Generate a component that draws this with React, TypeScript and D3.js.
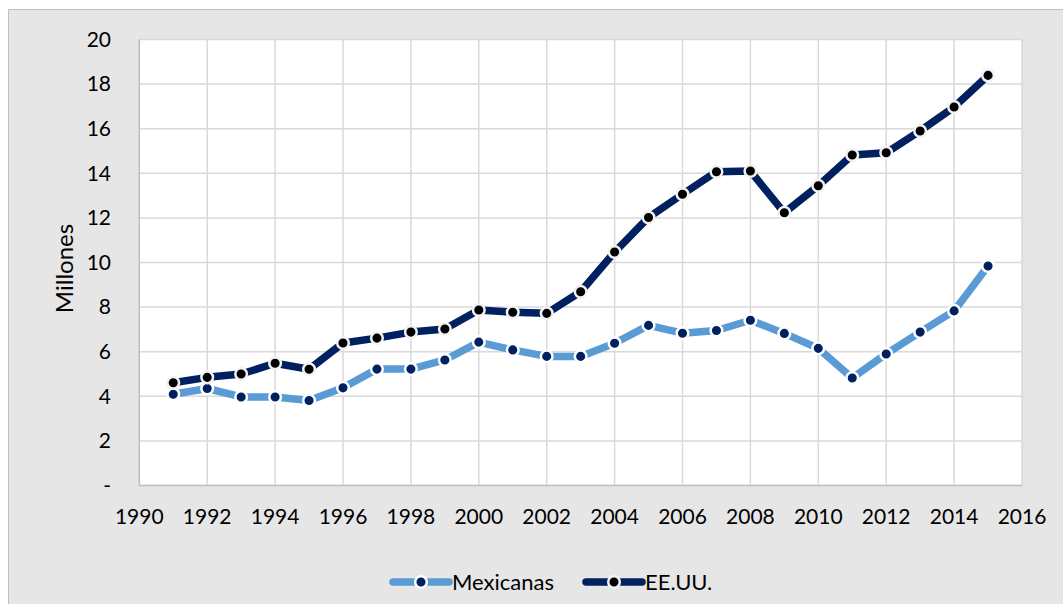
import React from "react";
import * as d3 from "d3";

const years = [1991,1992,1993,1994,1995,1996,1997,1998,1999,2000,2001,2002,2003,2004,2005,2006,2007,2008,2009,2010,2011,2012,2013,2014,2015];
const mexicanas = [4.09,4.35,3.97,3.97,3.81,4.38,5.22,5.22,5.63,6.43,6.08,5.79,5.79,6.38,7.18,6.83,6.95,7.41,6.82,6.15,4.82,5.90,6.88,7.83,9.84];
const eeuu = [4.61,4.85,5.00,5.48,5.21,6.39,6.61,6.88,7.02,7.87,7.77,7.72,8.69,10.47,12.02,13.06,14.07,14.10,12.23,13.44,14.82,14.92,15.90,16.97,18.39];
const yTicks = [0,2,4,6,8,10,12,14,16,18,20];
const xTicks = [1990,1992,1994,1996,1998,2000,2002,2004,2006,2008,2010,2012,2014,2016];
const seriesNames = ["Mexicanas", "EE.UU."];

const FONT = "Lato, 'Open Sans', sans-serif";

export default function App() {
  const W = 1063, H = 604;
  const left = 139.3, right = 1022, top = 39.5, bottom = 485.5;
  const x = d3.scaleLinear().domain([1990, 2016]).range([left, right]);
  const y = d3.scaleLinear().domain([0, 20]).range([bottom, top]);
  const line = d3.line<[number, number]>().x(d => x(d[0])).y(d => y(d[1]));

  const series = [
    { name: seriesNames[0], data: mexicanas, color: "#5b9bd5", marker: "#002060", markerStroke: "#ffffff" },
    { name: seriesNames[1], data: eeuu, color: "#002060", marker: "#000000", markerStroke: "#f2f2f2" },
  ];

  const legendItems = [
    { lx: 391, tx: 452 },
    { lx: 584, tx: 645 },
  ];

  return (
    <svg width={W} height={H} style={{ position: "absolute", left: 0, top: 0 }} xmlns="http://www.w3.org/2000/svg">
      <rect x={0} y={0} width={W} height={H} fill="#ffffff" />
      <rect x={8.5} y={9.5} width={W + 10} height={H + 10} fill="#e7e6e6" stroke="#bfbfbf" strokeWidth={1} />
      <rect x={left} y={top} width={right - left} height={bottom - top} fill="#ffffff" />
      {yTicks.map(t => (
        <line key={"gy" + t} x1={left} x2={right} y1={y(t)} y2={y(t)} stroke="#d9d9d9" strokeWidth={1.5} />
      ))}
      {xTicks.map(t => (
        <line key={"gx" + t} x1={x(t)} x2={x(t)} y1={top} y2={bottom} stroke="#d9d9d9" strokeWidth={1.5} />
      ))}
      <line x1={left} x2={left} y1={top} y2={bottom} stroke="#bfbfbf" strokeWidth={1.5} />
      <line x1={left} x2={right} y1={bottom} y2={bottom} stroke="#bfbfbf" strokeWidth={1.5} />
      {yTicks.map(t => (
        <text key={"ty" + t} x={111} y={y(t)} dy="0.35em" textAnchor="end" fontFamily={FONT} fontSize={21} fill="#000">
          {t === 0 ? "-" : String(t)}
        </text>
      ))}
      {xTicks.map(t => (
        <text key={"tx" + t} x={x(t)} y={517} dy="0.35em" textAnchor="middle" fontFamily={FONT} fontSize={21} fill="#000">
          {String(t)}
        </text>
      ))}
      <text transform={`translate(73,${(top + bottom) / 2 + 6}) rotate(-90)`} textAnchor="middle" fontFamily={FONT} fontSize={24} fill="#000">
        Millones
      </text>
      {series.map(s => {
        const pts: [number, number][] = years.map((yr, i) => [yr, s.data[i]]);
        return (
          <g key={s.name}>
            <path d={line(pts) || ""} fill="none" stroke={s.color} strokeWidth={7.5} strokeLinejoin="round" />
            {pts.map((p, i) => (
              <circle key={i} cx={x(p[0])} cy={y(p[1])} r={5.8} fill={s.marker} stroke={s.markerStroke} strokeWidth={2.5} />
            ))}
          </g>
        );
      })}
      {series.map((s, i) => {
        const it = legendItems[i];
        return (
          <g key={"lg" + s.name}>
            <line x1={it.lx + 2} x2={it.lx + 58} y1={582} y2={582} stroke={s.color} strokeWidth={7.5} strokeLinecap="round" />
            <circle cx={it.lx + 30} cy={582} r={5.8} fill={s.marker} stroke={s.markerStroke} strokeWidth={2.5} />
            <text x={it.tx} y={582} dy="0.35em" fontFamily={FONT} fontSize={22} fill="#000">{s.name}</text>
          </g>
        );
      })}
    </svg>
  );
}
